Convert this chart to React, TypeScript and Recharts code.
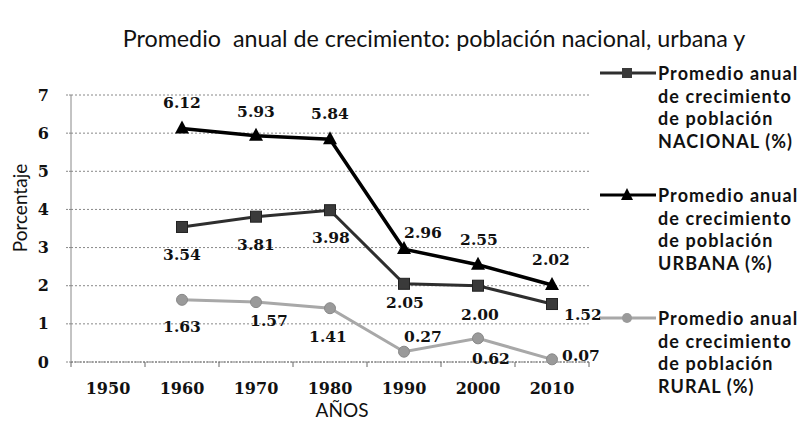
import React from 'react';
import { ComposedChart, Line, XAxis, YAxis, CartesianGrid, LabelList, Label } from 'recharts';

const years = ['1950', '1960', '1970', '1980', '1990', '2000', '2010'];
const nacional: (number | null)[] = [null, 3.54, 3.81, 3.98, 2.05, 2.0, 1.52];
const urbana: (number | null)[] = [null, 6.12, 5.93, 5.84, 2.96, 2.55, 2.02];
const rural: (number | null)[] = [null, 1.63, 1.57, 1.41, 0.27, 0.62, 0.07];
const yTicks = [0, 1, 2, 3, 4, 5, 6, 7];
const titleText = 'Promedio  anual de crecimiento: población nacional, urbana y';
const legendNacional = ['Promedio anual', 'de crecimiento', 'de población', 'NACIONAL (%)'];
const legendUrbana = ['Promedio anual', 'de crecimiento', 'de población', 'URBANA (%)'];
const legendRural = ['Promedio anual', 'de crecimiento', 'de población', 'RURAL (%)'];

const data = years.map((y, i) => ({ year: y, nacional: nacional[i], urbana: urbana[i], rural: rural[i] }));

// half of a category slot (style: plot width 518 / 7 / 2)
const HALF = 37;

// label offsets (style) per point index
const offNac: [number, number][] = [[0, 0], [0, 28], [0, 28], [1, 27], [1, 19], [2, 29], [31, 10]];
const offUrb: [number, number][] = [[0, 0], [0, -26], [0, -24], [0, -26], [19, -17], [1, -25], [-1, -25]];
const offRur: [number, number][] = [[0, 0], [0, 27], [13, 18], [-2, 28], [19, -15], [13, 20], [29, -4]];

const serif = '"DejaVu Serif", serif';
const sans = 'Lato, "Open Sans", sans-serif';

const makeLabel = (offs: [number, number][]) => (props: any) => {
  const { x, y, value, index } = props;
  if (value === null || value === undefined || x == null || y == null) return null;
  const o = offs[index] || [0, 0];
  return (
    <text
      x={Number(x) + o[0]}
      y={Number(y) + o[1]}
      textAnchor="middle"
      dominantBaseline="central"
      fontFamily={serif}
      fontWeight="bold"
      fontSize={15.5}
      fill="#111"
    >
      {Number(value).toFixed(2)}
    </text>
  );
};

const SquareDot = (props: any) => {
  const { cx, cy, key } = props;
  if (cx == null || cy == null || props.value == null) return <g key={key} />;
  return <rect key={key} x={cx - 5.5} y={cy - 5.5} width={11} height={11} fill="#3a3a3a" stroke="#222" strokeWidth={1} />;
};
const TriDot = (props: any) => {
  const { cx, cy, key } = props;
  if (cx == null || cy == null || props.value == null) return <g key={key} />;
  return <polygon key={key} points={`${cx},${cy - 8} ${cx + 7},${cy + 5} ${cx - 7},${cy + 5}`} fill="#000" />;
};
const CircDot = (props: any) => {
  const { cx, cy, key } = props;
  if (cx == null || cy == null || props.value == null) return <g key={key} />;
  return <circle key={key} cx={cx} cy={cy} r={5.5} fill="#9a9a9a" stroke="#888" strokeWidth={1} />;
};

const XTick = (props: any) => {
  const { x, y, payload, index, visibleTicksCount } = props;
  const off = payload && payload.offset ? payload.offset : HALF;
  const last = index === (visibleTicksCount ? visibleTicksCount - 1 : years.length - 1);
  return (
    <g>
      <line x1={x - off} x2={x - off} y1={y} y2={y + 5} stroke="#666" strokeWidth={1} />
      {last && <line x1={x + off} x2={x + off} y1={y} y2={y + 5} stroke="#666" strokeWidth={1} />}
      <text x={x} y={y + 26} textAnchor="middle" dominantBaseline="central" fontFamily={serif} fontWeight="bold" fontSize={16} fill="#111">
        {payload.value}
      </text>
    </g>
  );
};

const YTick = (props: any) => {
  const { x, y, payload } = props;
  return (
    <text x={x} y={y} textAnchor="end" dominantBaseline="central" fontFamily={serif} fontWeight="bold" fontSize={16} fill="#111">
      {payload.value}
    </text>
  );
};

const series = [
  { key: 'nacional', lines: legendNacional, color: '#2e2e2e', top: 73, marker: 'square' },
  { key: 'urbana', lines: legendUrbana, color: '#000', top: 195, marker: 'tri' },
  { key: 'rural', lines: legendRural, color: '#a8a8a8', top: 318, marker: 'circ' },
];

const LegendBox = () => (
  <div style={{ position: 'absolute', left: 0, top: 0, width: 802, height: 422, pointerEvents: 'none' }}>
    {series.map((s) => (
      <div key={s.key}>
        <svg style={{ position: 'absolute', left: 598, top: s.top - 8 }} width={60} height={16}>
          <line x1={2} x2={58} y1={8} y2={8} stroke={s.color} strokeWidth={3} />
          {s.marker === 'square' && <rect x={24} y={3} width={10} height={10} fill="#3a3a3a" />}
          {s.marker === 'tri' && <polygon points="29,1 35,13 23,13" fill="#000" />}
          {s.marker === 'circ' && <circle cx={29} cy={8} r={5} fill="#9a9a9a" />}
        </svg>
        {s.lines.map((t, i) => (
          <div
            key={i}
            style={{
              position: 'absolute',
              left: 658,
              top: s.top + i * 22.5 - 11,
              height: 22,
              lineHeight: '22px',
              fontFamily: sans,
              fontWeight: 700,
              fontSize: 18,
              letterSpacing: 1.1,
              color: '#111',
              whiteSpace: 'pre',
            }}
          >
            {t}
          </div>
        ))}
      </div>
    ))}
  </div>
);

export default function App() {
  return (
    <div style={{ position: 'fixed', left: 0, top: 0, width: 802, height: 422, background: '#fff', overflow: 'hidden' }}>
      <div
        style={{
          position: 'absolute',
          left: 0,
          width: 868,
          top: 23,
          textAlign: 'center',
          fontFamily: sans,
          fontSize: 23.3,
          lineHeight: '30px',
          color: '#111',
          whiteSpace: 'pre',
        }}
      >
        {titleText}
      </div>
      <ComposedChart width={802} height={422} data={data} margin={{ top: 95, right: 213, left: 0, bottom: 20 }}>
        <CartesianGrid vertical={false} stroke="#888" strokeDasharray="2 2" />
        <XAxis
          dataKey="year"
          height={40}
          padding={{ left: HALF, right: HALF }}
          tickSize={0}
          tickMargin={0}
          tickLine={false}
          axisLine={{ stroke: '#777', strokeDasharray: '2 1' }}
          tick={<XTick />}
          interval={0}
        >
          <Label
            content={(p: any) => {
              const vb = p.viewBox || { x: 71, y: 362, width: 518 };
              return (
                <text x={vb.x + vb.width / 2 + 12} y={vb.y + 47} textAnchor="middle" dominantBaseline="central" fontFamily={sans} fontSize={19} fill="#111">
                  AÑOS
                </text>
              );
            }}
          />
        </XAxis>
        <YAxis
          width={71}
          domain={[0, 7]}
          ticks={yTicks}
          interval={0}
          tickSize={5}
          tickMargin={17}
          tickLine={{ stroke: '#888', strokeDasharray: '2 1' }}
          axisLine={{ stroke: '#888' }}
          tick={<YTick />}
        >
          <Label
            content={(p: any) => {
              const vb = p.viewBox || { x: 0, y: 95, width: 71, height: 267 };
              const cx = vb.x + 19;
              const cy = 208;
              return (
                <text x={cx} y={cy} transform={`rotate(-90 ${cx} ${cy})`} textAnchor="middle" dominantBaseline="central" fontFamily={sans} fontSize={19} fill="#111">
                  Porcentaje
                </text>
              );
            }}
          />
        </YAxis>
        <Line dataKey="rural" name="rural" stroke="#a8a8a8" strokeWidth={3} dot={CircDot} isAnimationActive={false} connectNulls={false}>
          <LabelList dataKey="rural" content={makeLabel(offRur)} />
        </Line>
        <Line dataKey="nacional" name="nacional" stroke="#2e2e2e" strokeWidth={3} dot={SquareDot} isAnimationActive={false}>
          <LabelList dataKey="nacional" content={makeLabel(offNac)} />
        </Line>
        <Line dataKey="urbana" name="urbana" stroke="#000" strokeWidth={3.5} dot={TriDot} isAnimationActive={false}>
          <LabelList dataKey="urbana" content={makeLabel(offUrb)} />
        </Line>
      </ComposedChart>
      <LegendBox />
    </div>
  );
}
